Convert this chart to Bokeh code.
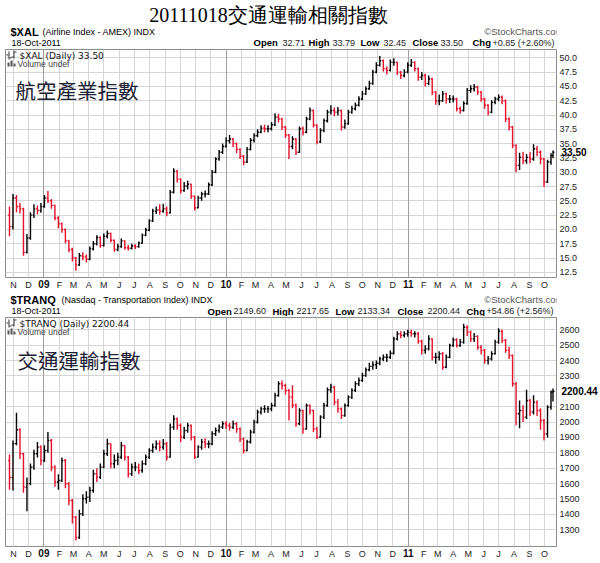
from datetime import datetime
import pandas as pd
from bokeh.plotting import figure
from bokeh.models import (Label, FixedTicker, NumeralTickFormatter, Grid, AllLabels,
                          ColumnDataSource, Range1d, BoxAnnotation, LinearAxis, DatetimeAxis)
from bokeh.layouts import column
from bokeh.embed import file_html
from bokeh.resources import INLINE

# ---------------- data (weekly bars) ----------------
week_dates = list(pd.date_range("2008-10-24", periods=156, freq="7D")) + [pd.Timestamp("2011-10-18")]

xal_first_open = 22.5
xal_close = [
    20.5, 25.5, 24.0, 23.6, 16.0, 18.5, 22.5, 23.6, 23.3, 24.0,
    25.5, 25.0, 24.2, 22.0, 21.0, 20.0, 18.0, 16.5, 15.0, 13.8,
    15.4, 15.2, 14.8, 16.6, 17.5, 18.6, 17.2, 18.8, 19.3, 18.1,
    16.5, 17.0, 18.0, 16.8, 16.7, 17.1, 17.0, 17.6, 19.0, 19.9,
    21.5, 23.2, 23.4, 23.2, 23.6, 22.9, 26.5, 30.2, 28.8, 26.8,
    27.6, 27.9, 25.8, 23.8, 25.5, 26.2, 26.2, 27.8, 30.0, 32.3,
    33.5, 34.5, 35.5, 35.8, 35.0, 34.0, 32.8, 31.8, 34.0, 35.6,
    36.4, 37.0, 37.7, 37.6, 37.6, 38.3, 39.6, 39.3, 37.9, 36.5,
    34.5, 35.8, 33.5, 37.6, 37.0, 39.3, 40.8, 38.2, 35.3, 37.3,
    39.0, 40.5, 40.8, 40.5, 40.8, 37.9, 38.5, 40.5, 41.1, 41.7,
    42.8, 43.7, 44.6, 45.5, 47.5, 48.7, 49.5, 48.1, 47.8, 49.2,
    49.2, 47.5, 46.9, 47.5, 48.7, 49.2, 48.1, 46.6, 46.9, 45.5,
    46.3, 44.0, 42.5, 42.5, 43.7, 42.8, 42.8, 42.8, 41.1, 40.8,
    42.0, 44.3, 44.6, 44.9, 44.0, 42.8, 41.7, 40.5, 42.2, 42.8,
    43.1, 42.5, 39.3, 37.9, 34.7, 31.2, 32.6, 32.0, 32.6, 32.3,
    34.1, 33.5, 32.3, 28.3, 31.8, 32.9, 33.50]
xal_high = [
    24.0, 26.2, 26.0, 24.6, 23.8, 19.2, 23.0, 24.4, 24.2, 24.6,
    26.0, 26.7, 25.3, 24.3, 22.3, 21.2, 20.1, 18.2, 16.8, 15.2,
    15.9, 16.0, 15.6, 17.0, 18.0, 19.0, 18.8, 19.3, 19.8, 19.4,
    18.2, 17.5, 18.4, 18.1, 17.3, 17.5, 17.4, 17.9, 19.3, 20.3,
    21.8, 23.6, 24.0, 24.4, 24.5, 24.0, 26.9, 30.7, 30.4, 28.9,
    28.3, 28.5, 28.0, 25.9, 25.9, 26.6, 26.8, 28.2, 30.4, 32.6,
    33.9, 35.0, 36.1, 36.5, 36.0, 35.2, 34.2, 33.0, 34.4, 36.0,
    36.8, 37.5, 38.2, 38.3, 38.2, 38.8, 40.3, 40.2, 39.5, 38.1,
    36.7, 36.3, 36.0, 38.0, 38.0, 39.7, 41.3, 40.9, 38.4, 37.7,
    39.4, 40.9, 41.7, 41.3, 41.4, 40.9, 39.2, 40.9, 41.6, 42.2,
    43.3, 44.2, 45.0, 46.0, 47.9, 49.2, 50.3, 49.7, 48.5, 49.7,
    49.9, 49.3, 47.7, 48.0, 49.2, 49.8, 49.4, 48.3, 47.5, 47.2,
    46.9, 46.5, 44.2, 43.6, 44.2, 43.9, 43.5, 43.4, 43.0, 41.5,
    42.4, 44.7, 45.2, 45.4, 45.1, 44.2, 43.0, 41.9, 42.6, 43.2,
    43.6, 43.4, 42.7, 39.6, 38.1, 34.9, 33.4, 33.6, 33.2, 33.5,
    34.9, 34.6, 33.8, 32.5, 32.2, 33.3, 33.79]
xal_low = [
    18.8, 20.0, 23.0, 22.8, 15.4, 15.8, 18.2, 22.0, 22.6, 22.9,
    23.8, 24.6, 23.6, 21.6, 20.2, 19.4, 17.6, 16.0, 14.4, 12.8,
    13.6, 14.6, 14.2, 14.6, 16.3, 17.2, 16.8, 17.0, 18.4, 17.7,
    16.1, 16.2, 16.8, 16.5, 16.3, 16.5, 16.6, 16.8, 17.5, 18.8,
    19.7, 21.3, 22.7, 22.6, 22.9, 22.3, 22.8, 26.3, 28.2, 26.3,
    26.6, 27.0, 25.3, 23.3, 23.7, 25.0, 25.6, 26.0, 27.6, 29.8,
    32.0, 33.2, 34.3, 35.0, 34.4, 33.3, 32.3, 31.2, 31.6, 33.8,
    35.2, 36.1, 36.8, 37.0, 37.0, 37.3, 38.1, 38.7, 37.4, 36.0,
    32.3, 34.0, 33.0, 33.4, 36.4, 36.8, 39.1, 37.8, 34.9, 35.1,
    37.0, 38.7, 40.1, 39.8, 39.9, 37.3, 37.6, 38.3, 40.2, 40.8,
    41.5, 42.6, 43.5, 44.4, 45.3, 47.3, 48.5, 47.6, 47.1, 47.6,
    48.6, 47.0, 46.3, 46.6, 47.3, 48.4, 47.6, 46.0, 46.1, 45.0,
    45.2, 43.5, 41.8, 41.7, 42.3, 42.0, 42.1, 42.2, 40.6, 40.2,
    40.6, 41.8, 43.9, 44.1, 43.5, 42.3, 41.1, 39.9, 40.3, 41.9,
    42.4, 41.9, 38.8, 37.3, 34.2, 30.0, 30.4, 31.4, 31.5, 31.6,
    32.0, 32.8, 31.4, 27.4, 28.1, 31.3, 32.45]

tranq_first_open = 1750
tranq_close = [
    1640, 1860, 1950, 1794, 1577, 1600, 1707, 1794, 1837, 1750,
    1815, 1880, 1707, 1610, 1620, 1750, 1599, 1490, 1382, 1250,
    1404, 1501, 1512, 1555, 1664, 1642, 1707, 1794, 1859, 1729,
    1750, 1772, 1848, 1772, 1664, 1707, 1707, 1685, 1729, 1772,
    1815, 1837, 1859, 1837, 1859, 1772, 1967, 2021, 1978, 1902,
    1945, 1978, 1902, 1772, 1837, 1870, 1859, 1859, 1924, 1945,
    1967, 1989, 1978, 1967, 1989, 1956, 1891, 1815, 1870, 1935,
    2000, 2065, 2086, 2086, 2086, 2108, 2173, 2249, 2238, 2206,
    2162, 2110, 1989, 2075, 1956, 2108, 2075, 1956, 1902, 2032,
    2108, 2210, 2227, 2130, 2086, 2043, 2108, 2162, 2206, 2249,
    2271, 2303, 2340, 2362, 2373, 2383, 2411, 2422, 2422, 2448,
    2541, 2574, 2565, 2574, 2583, 2574, 2574, 2526, 2466, 2476,
    2541, 2422, 2422, 2444, 2357, 2422, 2498, 2535, 2498, 2520,
    2617, 2585, 2541, 2557, 2487, 2466, 2401, 2411, 2444, 2520,
    2591, 2531, 2466, 2433, 2249, 2054, 2075, 2032, 2140, 2065,
    2130, 2075, 2010, 1924, 2097, 2195, 2200.44]
tranq_high = [
    1790, 1880, 2060, 1960, 1800, 1640, 1730, 1820, 1870, 1850,
    1850, 1935, 1890, 1720, 1660, 1770, 1760, 1610, 1500, 1390,
    1430, 1530, 1550, 1580, 1690, 1700, 1730, 1820, 1891, 1860,
    1790, 1800, 1870, 1850, 1780, 1730, 1740, 1730, 1750, 1790,
    1830, 1860, 1880, 1880, 1890, 1870, 1990, 2045, 2030, 1990,
    1970, 1995, 1985, 1910, 1850, 1890, 1895, 1880, 1940, 1965,
    1985, 2005, 2005, 1995, 2010, 2000, 1965, 1900, 1885, 1950,
    2015, 2080, 2100, 2110, 2105, 2125, 2190, 2265, 2270, 2250,
    2215, 2240, 2120, 2090, 2080, 2120, 2115, 2080, 1970, 2045,
    2125, 2225, 2250, 2235, 2150, 2095, 2120, 2175, 2220, 2265,
    2290, 2320, 2355, 2385, 2395, 2400, 2425, 2440, 2445, 2465,
    2555, 2590, 2590, 2590, 2600, 2600, 2590, 2585, 2535, 2500,
    2565, 2545, 2450, 2460, 2455, 2440, 2510, 2550, 2545, 2540,
    2640, 2630, 2595, 2580, 2565, 2500, 2475, 2430, 2460, 2535,
    2610, 2600, 2540, 2490, 2440, 2260, 2140, 2110, 2210, 2150,
    2175, 2140, 2090, 2020, 2110, 2205, 2217.65]
tranq_low = [
    1560, 1555, 1850, 1760, 1540, 1420, 1590, 1690, 1770, 1720,
    1740, 1800, 1680, 1580, 1560, 1610, 1570, 1460, 1340, 1230,
    1240, 1390, 1470, 1480, 1540, 1610, 1630, 1700, 1780, 1700,
    1700, 1720, 1760, 1750, 1640, 1650, 1680, 1660, 1670, 1720,
    1760, 1800, 1820, 1810, 1820, 1750, 1770, 1950, 1950, 1870,
    1890, 1930, 1880, 1760, 1770, 1820, 1830, 1830, 1850, 1910,
    1930, 1955, 1955, 1945, 1955, 1930, 1870, 1795, 1810, 1860,
    1925, 1990, 2050, 2060, 2060, 2070, 2100, 2165, 2210, 2180,
    2010, 2090, 1970, 1980, 1924, 1950, 2050, 1935, 1890, 1900,
    2020, 2100, 2190, 2110, 2060, 2020, 2035, 2100, 2150, 2195,
    2235, 2260, 2295, 2330, 2340, 2345, 2370, 2395, 2390, 2410,
    2440, 2530, 2545, 2550, 2555, 2555, 2550, 2510, 2440, 2445,
    2465, 2400, 2380, 2400, 2340, 2350, 2415, 2490, 2485, 2490,
    2510, 2560, 2520, 2520, 2470, 2440, 2380, 2375, 2400, 2440,
    2510, 2515, 2450, 2410, 2230, 1980, 1960, 2000, 2020, 2040,
    2050, 2040, 1950, 1880, 1900, 2080, 2133.34]

month_starts = list(pd.date_range("2008-11-01", periods=36, freq="MS"))
month_labels = ["N", "D", "09", "F", "M", "A", "M", "J", "J", "A", "S", "O",
                "N", "D", "10", "F", "M", "A", "M", "J", "J", "A", "S", "O",
                "N", "D", "11", "F", "M", "A", "M", "J", "J", "A", "S", "O"]
year_labels = ["09", "10", "11"]

xal_ticks = [12.5, 15.0, 17.5, 20.0, 22.5, 25.0, 27.5, 30.0, 32.5, 35.0,
             37.5, 40.0, 42.5, 45.0, 47.5, 50.0]
tranq_ticks = [1300, 1400, 1500, 1600, 1700, 1800, 1900, 2000, 2100, 2200,
               2300, 2400, 2500, 2600]

title_text = "20111018交通運輸相關指數"
xal_header = ["$XAL", "(Airline Index - AMEX) INDX", "18-Oct-2011",
              "Open", "32.71", "High", "33.79", "Low", "32.45", "Close", "33.50",
              "Chg", "+0.85 (+2.60%)"]
tranq_header = ["$TRANQ", "(Nasdaq - Transportation Index) INDX", "18-Oct-2011",
                "Open", "2149.60", "High", "2217.65", "Low", "2133.34", "Close", "2200.44",
                "Chg", "+54.86 (+2.56%)"]

# ---------------- styling / layout ----------------
W = 600
FRAME_LEFT = 5
UP = "#000000"
DOWN = "#e5102b"
SANS = "Liberation Sans"
month_ms = [t.value / 1e6 for t in month_starts]
jan_ms = [m for m, lab in zip(month_ms, month_labels) if lab in year_labels]


def lbl(p, x, y, text, size, bold=False, color="#000000", font=SANS, align="left"):
    p.add_layout(Label(x=x, y=y, x_units="screen", y_units="screen",
                       text=text, text_font=font, text_font_size=f"{size}px",
                       text_font_style="bold" if bold else "normal", text_color=color,
                       text_align=align, text_baseline="middle"))


def box(p, fb, x0, y0, x1, y1, color):
    p.add_layout(BoxAnnotation(left=x0 - FRAME_LEFT, right=x1 - FRAME_LEFT,
                               top=fb - y0, bottom=fb - y1,
                               left_units="screen", right_units="screen",
                               top_units="screen", bottom_units="screen",
                               fill_color=color, fill_alpha=1.0, line_color=None))


def plain_axis(a, size="9px", bold=False, standoff=2, color="#222222"):
    a.axis_line_color = None
    a.major_tick_line_color = None
    a.minor_tick_line_color = None
    a.major_tick_out = 0
    a.major_tick_in = 0
    a.minor_tick_out = 0
    a.minor_tick_in = 0
    a.major_label_text_font = SANS
    a.major_label_text_font_size = size
    a.major_label_text_font_style = "bold" if bold else "normal"
    a.major_label_text_color = color
    a.major_label_standoff = standoff


def header_strip(height, top, header, piece_x, y1, y2, title=None):
    s = figure(width=W, height=height, x_range=Range1d(0, W), y_range=Range1d(0, height),
               x_axis_location=None, y_axis_location=None, output_backend="svg",
               toolbar_location=None, min_border_left=0, min_border_right=0,
               min_border_top=0, min_border_bottom=0, outline_line_color=None,
               background_fill_color="white", border_fill_color="white")
    s.grid.visible = False

    def Y(py):
        return height - (py - top)

    if title is not None:
        lbl(s, 263, Y(14), title, 20, font="Liberation Serif", align="center")
    lbl(s, 5, Y(y1), header[0], 11, bold=True)
    lbl(s, piece_x[0], Y(y1), header[1], 9)
    lbl(s, 558, Y(y1), "©StockCharts.com", 9.5, color="#555555", align="right")
    lbl(s, 6, Y(y2), header[2], 9)
    for i in range(3, 13):
        bold = (i % 2 == 1)
        lbl(s, piece_x[i - 2], Y(y2), header[i], 9.5 if bold else 9, bold=bold,
            color="#000000" if bold else "#222222")
    lbl(s, piece_x[11], Y(y2), "▲", 7, color="#2e8b2e", align="center")
    return s


def chart(height, fb, frame_top, first_open, closes, highs, lows, yr, yticks, yfmt,
          name, big_text, big_x, big_y, hidden_tick, tag_standoff):
    p = figure(width=W, height=height, x_axis_type="datetime", y_axis_location="right",
               x_range=Range1d(datetime(2008, 10, 16), datetime(2011, 10, 25)),
               y_range=Range1d(*yr), output_backend="svg", toolbar_location=None,
               min_border_left=FRAME_LEFT, min_border_right=41, min_border_top=1,
               min_border_bottom=16, background_fill_color="white",
               border_fill_color="white")
    opens = [first_open] + closes[:-1]
    colors = [UP if c >= o else DOWN for o, c in zip(opens, closes)]
    half = pd.Timedelta(hours=66)
    src = ColumnDataSource(dict(x=week_dates, xl=[d - half for d in week_dates],
                                xr=[d + half for d in week_dates], o=opens, h=highs,
                                l=lows, c=closes, color=colors))
    kw = dict(source=src, line_color="color", line_width=1.4)
    p.segment("x", "l", "x", "h", **kw)
    p.segment("xl", "o", "x", "o", **kw)
    p.segment("x", "c", "xr", "c", **kw)

    # month axis (years drawn bold by a second, overlapping axis)
    xa = p.xaxis[0]
    xa.ticker = FixedTicker(ticks=month_ms)
    xa.major_label_overrides = {m: ("" if lab in year_labels else lab)
                                for m, lab in zip(month_ms, month_labels)}
    plain_axis(xa, standoff=2)
    ya_years = DatetimeAxis(ticker=FixedTicker(ticks=jan_ms))
    ya_years.major_label_overrides = {m: lab for m, lab in zip(month_ms, month_labels)
                                      if lab in year_labels}
    plain_axis(ya_years, size="10px", bold=True, standoff=-13, color="#111111")
    p.add_layout(ya_years, "below")

    last = closes[-1]
    last_txt = f"{last:.2f}"
    ya = p.yaxis[0]
    ya.ticker = FixedTicker(ticks=yticks)
    ya.formatter = NumeralTickFormatter(format=yfmt)
    ya.major_label_policy = AllLabels()
    if hidden_tick is not None:
        ya.major_label_overrides = {hidden_tick: ""}
    plain_axis(ya, standoff=3)

    # last-price tag drawn by an overlapping axis
    tag = LinearAxis(ticker=FixedTicker(ticks=[last]))
    tag.major_label_overrides = {last: last_txt}
    plain_axis(tag, size="10px", bold=True, standoff=tag_standoff, color="#000000")
    p.add_layout(tag, "right")

    p.xgrid.grid_line_color = "#d6d6d6"
    p.ygrid.grid_line_color = "#d6d6d6"
    p.add_layout(Grid(dimension=0, ticker=FixedTicker(ticks=jan_ms), grid_line_color="#9e9e9e"))
    p.outline_line_color = "#8c8c8c"

    # legend rows inside the frame
    ly1, ly2 = frame_top + 6, frame_top + 14
    c = "#333333"
    box(p, fb, 8, ly1 - 4, 9, ly1 + 4, c)
    box(p, fb, 6, ly1 - 1, 8, ly1, c)
    box(p, fb, 9, ly1 + 2, 11, ly1 + 3, c)
    box(p, fb, 13, ly1 - 5, 14, ly1 + 3, c)
    box(p, fb, 11, ly1 + 1, 13, ly1 + 2, c)
    box(p, fb, 14, ly1 - 4, 16, ly1 - 3, c)
    lbl(p, 19 - FRAME_LEFT, fb - ly1, f"{name} (Daily) {last_txt}", 9,
        color="#111111", font="DejaVu Sans")
    box(p, fb, 7, ly2 - 1, 9, ly2 + 3, "#555555")
    box(p, fb, 10, ly2 - 3, 12, ly2 + 3, "#555555")
    box(p, fb, 13, ly2, 15, ly2 + 3, "#555555")
    lbl(p, 17 - FRAME_LEFT, fb - ly2, "Volume undef", 8.5, color="#444444")

    lbl(p, big_x - FRAME_LEFT, fb - big_y, big_text, 20.5, color="#1c2233",
        font="Noto Sans CJK TC")
    return p


h1 = header_strip(48, 0, xal_header,
                  [37, 248, 277, 303, 327, 355, 378, 407, 435, 467, 487, 556],
                  31, 42, title=title_text)
c1 = chart(245, 277, 49, xal_first_open, xal_close, xal_high, xal_low,
           (11.6, 51.45), xal_ticks, "0.0", "$XAL", "航空產業指數", 15, 89, None, -19)
h2 = header_strip(23, 293, tranq_header,
                  [56, 202, 228, 267, 291, 330, 352, 392, 422, 461, 481, 554],
                  299, 310.5)
c2 = chart(246, 546, 317, tranq_first_open, tranq_close, tranq_high, tranq_low,
           (1191, 2680), tranq_ticks, "0", "$TRANQ", "交通運輸指數", 17, 359, 2200, -21)

layout = column(h1, c1, h2, c2)
open("out.html", "w").write(file_html(layout, INLINE))
